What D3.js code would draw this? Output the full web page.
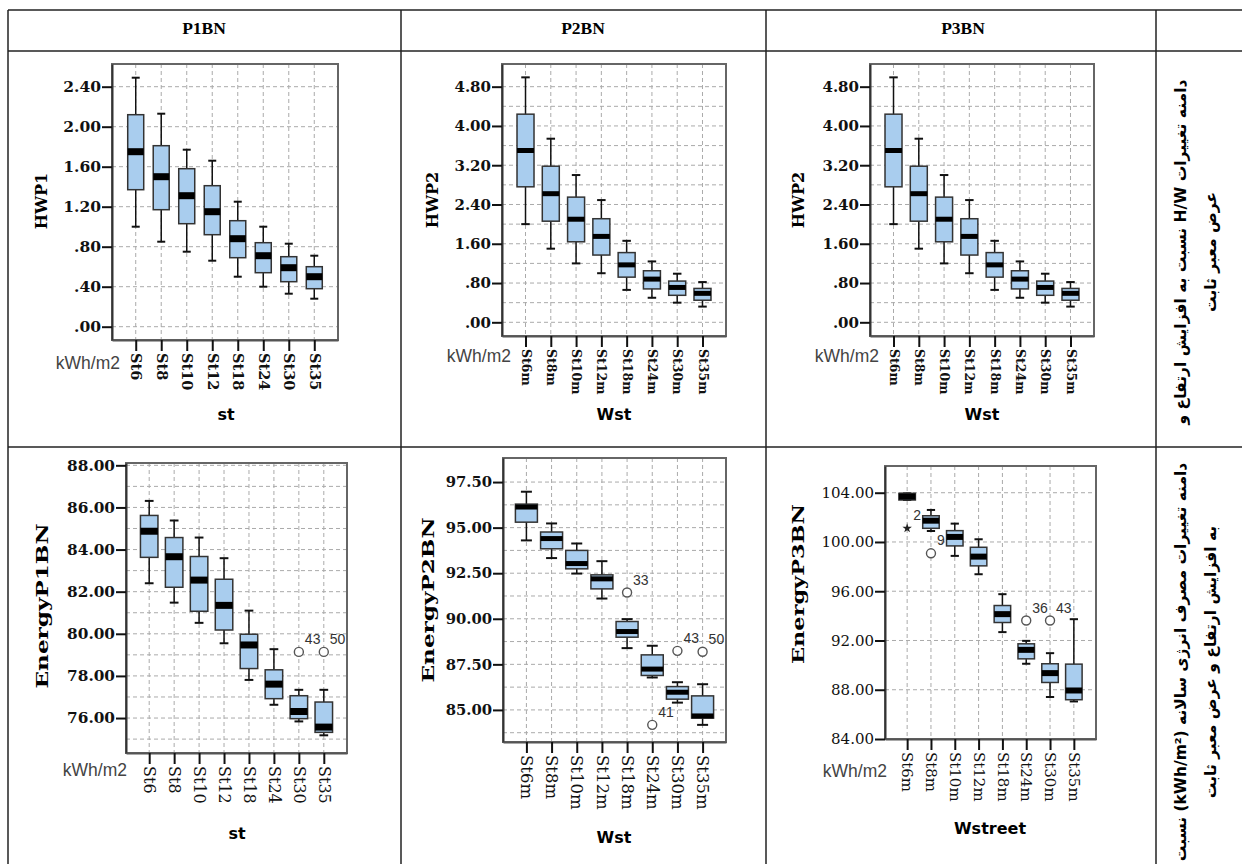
<!DOCTYPE html>
<html>
<head>
<meta charset="utf-8">
<script src="https://cdn.jsdelivr.net/npm/d3@7"></script>
<style>
body { margin: 0; background: #fff; }
</style>
</head>
<body>
<div id="chart"></div>
<script>
// categories
const catSt = ["St6", "St8", "St10", "St12", "St18", "St24", "St30", "St35"];
const catWst = ["St6m", "St8m", "St10m", "St12m", "St18m", "St24m", "St30m", "St35m"];

// HWP1 (P1BN, top)
const hwp1Low  = [1.00, 0.85, 0.75, 0.66, 0.50, 0.40, 0.33, 0.28];
const hwp1Q1   = [1.37, 1.17, 1.03, 0.92, 0.69, 0.54, 0.45, 0.38];
const hwp1Med  = [1.75, 1.50, 1.31, 1.15, 0.88, 0.71, 0.59, 0.50];
const hwp1Q3   = [2.12, 1.81, 1.58, 1.41, 1.06, 0.84, 0.70, 0.60];
const hwp1High = [2.49, 2.13, 1.77, 1.66, 1.25, 1.00, 0.83, 0.71];

// HWP2 (P2BN and P3BN, top)
const hwp2Low  = [2.00, 1.50, 1.20, 1.00, 0.66, 0.50, 0.40, 0.32];
const hwp2Q1   = [2.76, 2.06, 1.64, 1.37, 0.92, 0.68, 0.55, 0.45];
const hwp2Med  = [3.50, 2.62, 2.10, 1.75, 1.17, 0.88, 0.71, 0.59];
const hwp2Q3   = [4.24, 3.18, 2.55, 2.11, 1.42, 1.05, 0.84, 0.69];
const hwp2High = [4.99, 3.74, 3.00, 2.49, 1.66, 1.24, 0.99, 0.82];

// EnergyP1BN
const e1Low  = [82.40, 81.48, 80.52, 79.55, 77.81, 76.63, 75.84, 75.18];
const e1Q1   = [83.63, 82.21, 81.07, 80.18, 78.35, 76.92, 75.97, 75.32];
const e1Med  = [84.87, 83.66, 82.55, 81.35, 79.47, 77.61, 76.31, 75.57];
const e1Q3   = [85.62, 84.57, 83.67, 82.59, 79.98, 78.29, 77.06, 76.76];
const e1High = [86.31, 85.38, 84.57, 83.59, 81.10, 79.27, 77.34, 77.34];
const e1OutCat = ["St30", "St35"];
const e1OutVal = [79.14, 79.14];
const e1OutId  = ["43", "50"];

// EnergyP2BN
const e2Low  = [94.30, 93.33, 92.48, 91.11, 88.39, 86.78, 85.40, 84.18];
const e2Q1   = [95.30, 93.84, 92.74, 91.64, 88.99, 86.89, 85.59, 84.55];
const e2Med  = [96.13, 94.40, 93.03, 92.19, 89.30, 87.24, 85.97, 84.67];
const e2Q3   = [96.29, 94.76, 93.75, 92.41, 89.85, 88.02, 86.28, 85.77];
const e2High = [96.97, 95.23, 94.13, 93.16, 89.98, 88.52, 86.52, 86.41];
const e2OutCat = ["St18m", "St24m", "St30m", "St35m"];
const e2OutVal = [91.44, 84.18, 88.24, 88.19];
const e2OutId  = ["33", "41", "43", "50"];

// EnergyP3BN
const e3Low  = [103.41, 100.89, 98.87, 97.38, 92.68, 90.11, 87.41, 87.05];
const e3Q1   = [103.41, 101.11, 99.68, 98.06, 93.46, 90.51, 88.59, 87.19];
const e3Med  = [103.68, 101.73, 100.41, 98.81, 94.14, 91.24, 89.35, 87.94];
const e3Q3   = [103.95, 102.13, 100.92, 99.57, 94.84, 91.73, 90.11, 90.08];
const e3High = [103.95, 102.60, 101.49, 100.22, 95.76, 91.97, 90.97, 93.73];
const e3OutCat  = ["St6m", "St8m", "St24m", "St30m"];
const e3OutVal  = [101.11, 99.08, 93.62, 93.62];
const e3OutId   = ["2", "9", "36", "43"];
const e3OutKind = ["star", "circle", "circle", "circle"];

// tick labels and grid lines
const tickHWP1 = [0, 0.4, 0.8, 1.2, 1.6, 2.0, 2.4];
const tickHWP2 = [0, 0.8, 1.6, 2.4, 3.2, 4.0, 4.8];
const gridHWP2 = [0, 0.4, 0.8, 1.2, 1.6, 2.0, 2.4, 2.8, 3.2, 3.6, 4.0, 4.4, 4.8];
const tickE1 = [76, 78, 80, 82, 84, 86, 88];
const gridE1 = [75, 76, 77, 78, 79, 80, 81, 82, 83, 84, 85, 86, 87, 88];
const tickE2 = [85, 87.5, 90, 92.5, 95, 97.5];
const gridE2 = [83.75, 85, 86.25, 87.5, 88.75, 90, 91.25, 92.5, 93.75, 95, 96.25, 97.5];
const tickE3 = [84, 88, 92, 96, 100, 104];

// table texts
const headers = ["P1BN", "P2BN", "P3BN"];
const noteTop = ["دامنه تغییرات H/W نسبت به افزایش ارتفاع و", "عرض معبر ثابت"];
const noteBottom = ["دامنه تغییرات مصرف انرژی سالانه (kWh/m²) نسبت", "به افزایش ارتفاع و عرض معبر ثابت"];

const W = 1242, H = 864;
const svg = d3.select("#chart").append("svg")
    .attr("width", W)
    .attr("height", H)
    .style("background", "#fff");

const SERIF = "'DejaVu Serif', serif";
const SANS = "'DejaVu Sans', sans-serif";
const spssFmt = d => d3.format(".2f")(d).replace(/^0\./, ".");

// table rules
const tableH = [10, 51, 447];
const tableV = [8, 401, 766, 1156];
svg.selectAll(".hrule").data(tableH).join("line")
    .attr("x1", 8).attr("x2", W).attr("y1", d => d).attr("y2", d => d)
    .attr("stroke", "#222").attr("stroke-width", 1.5);
svg.selectAll(".vrule").data(tableV).join("line")
    .attr("x1", d => d).attr("x2", d => d).attr("y1", 10).attr("y2", H)
    .attr("stroke", "#222").attr("stroke-width", 1.5);

const headerX = [204, 583, 963];
svg.selectAll(".hdr").data(headers).join("text")
    .attr("x", (d, i) => headerX[i]).attr("y", 34)
    .attr("text-anchor", "middle")
    .attr("font-family", "'Liberation Serif', serif").attr("font-weight", "bold")
    .attr("font-size", 17.5).text(d => d);

function note(lines, cy, size) {
  const g = svg.append("g").attr("transform", "translate(1186," + cy + ") rotate(-90)");
  g.selectAll("text").data(lines).join("text")
      .attr("x", 0).attr("y", (d, i) => i * 30)
      .attr("text-anchor", "middle")
      .attr("direction", "rtl")
      .attr("font-family", SANS).attr("font-weight", "bold")
      .attr("font-size", size).text(d => d);
}
note(noteTop, 252, 15.5);
note(noteBottom, 662, 15.5);

function drawPanel(p) {
  const [x0, y0, x1, y1] = p.frame;
  const g = svg.append("g");
  const x = d3.scalePoint().domain(p.cats).range([x0, x1]).padding(0.93);
  const y = d3.scaleLinear().domain(p.yDom).range([y1, y0]);

  // grid
  g.selectAll(".hg").data(p.grid).join("line")
      .attr("x1", x0).attr("x2", x1).attr("y1", d => y(d)).attr("y2", d => y(d))
      .attr("stroke", "#aaa").attr("stroke-dasharray", "4,3");
  g.selectAll(".vg").data(p.cats).join("line")
      .attr("x1", d => x(d)).attr("x2", d => x(d)).attr("y1", y0).attr("y2", y1)
      .attr("stroke", "#aaa").attr("stroke-dasharray", "4,3");

  // frame
  g.append("rect")
      .attr("x", x0).attr("y", y0).attr("width", x1 - x0).attr("height", y1 - y0)
      .attr("fill", "none").attr("stroke", "#666").attr("stroke-width", 2);

  // y axis
  const ya = g.append("g").attr("transform", "translate(" + x0 + ",0)")
      .call(d3.axisLeft(y).tickValues(p.ticks).tickFormat(spssFmt).tickSize(10).tickPadding(1).tickSizeOuter(0));
  ya.select(".domain").attr("stroke", "#333").attr("stroke-width", 2);
  ya.selectAll(".tick line").attr("stroke", "#111").attr("stroke-width", 2);
  ya.selectAll(".tick text")
      .attr("font-family", SERIF).attr("font-weight", p.tickBold ? "bold" : "normal")
      .attr("font-size", p.tickSize).attr("fill", "#111");

  // x axis
  const xa = g.append("g").attr("transform", "translate(0," + y1 + ")")
      .call(d3.axisBottom(x).tickSize(11).tickSizeOuter(0));
  xa.select(".domain").attr("stroke", "#555").attr("stroke-width", 2);
  xa.selectAll(".tick line").attr("stroke", "#111").attr("stroke-width", 2);
  xa.selectAll(".tick text")
      .attr("transform", "rotate(90)")
      .attr("x", 13).attr("y", 0).attr("dy", "0.35em")
      .style("text-anchor", "start")
      .attr("font-family", SERIF).attr("font-weight", p.catBold ? "bold" : "normal")
      .attr("font-size", p.catSize).attr("fill", "#111");

  // boxes
  const rows = p.cats.map((c, i) => ({c, lo: p.low[i], q1: p.q1[i], med: p.med[i], q3: p.q3[i], hi: p.high[i]}));
  const bw = p.boxW, cw = p.boxW * 0.5;
  const bx = g.selectAll(".box").data(rows).join("g");
  bx.append("line")
      .attr("x1", d => x(d.c)).attr("x2", d => x(d.c))
      .attr("y1", d => y(d.hi)).attr("y2", d => y(d.lo))
      .attr("stroke", "#111").attr("stroke-width", 1.5);
  bx.append("line")
      .attr("x1", d => x(d.c) - cw / 2).attr("x2", d => x(d.c) + cw / 2)
      .attr("y1", d => y(d.hi)).attr("y2", d => y(d.hi))
      .attr("stroke", "#111").attr("stroke-width", 2);
  bx.append("line")
      .attr("x1", d => x(d.c) - cw / 2).attr("x2", d => x(d.c) + cw / 2)
      .attr("y1", d => y(d.lo)).attr("y2", d => y(d.lo))
      .attr("stroke", "#111").attr("stroke-width", 2);
  bx.append("rect")
      .attr("x", d => x(d.c) - bw / 2).attr("width", bw)
      .attr("y", d => y(d.q3)).attr("height", d => Math.max(1, y(d.q1) - y(d.q3)))
      .attr("fill", "#a9cdee").attr("stroke", "#333").attr("stroke-width", 1.5);
  bx.append("line")
      .attr("x1", d => x(d.c) - bw / 2).attr("x2", d => x(d.c) + bw / 2)
      .attr("y1", d => y(d.med)).attr("y2", d => y(d.med))
      .attr("stroke", "#000").attr("stroke-width", p.medW);

  // outliers
  if (p.outCat) {
    const outs = p.outCat.map((c, i) => ({c, v: p.outVal[i], id: p.outId[i], kind: p.outKind ? p.outKind[i] : "circle"}));
    const og = g.selectAll(".out").data(outs).join("g")
        .attr("transform", d => "translate(" + x(d.c) + "," + y(d.v) + ")");
    og.filter(d => d.kind === "circle").append("circle")
        .attr("r", 4.5).attr("fill", "#fff").attr("stroke", "#555").attr("stroke-width", 1.4);
    og.filter(d => d.kind === "star").append("path")
        .attr("d", d3.symbol(d3.symbolStar, 28)).attr("fill", "#222");
    og.append("text")
        .attr("x", 6).attr("y", -8)
        .attr("font-family", "'Liberation Sans', sans-serif").attr("font-size", 14)
        .attr("fill", "#333").text(d => d.id);
  }

  // titles
  const yt = svg.append("text")
      .attr("transform", "translate(" + p.yTitle[0] + "," + p.yTitle[1] + ") rotate(-90)")
      .attr("text-anchor", "middle").attr("dy", "0.35em")
      .attr("font-family", SERIF).attr("font-weight", "bold").attr("font-size", 16)
      .text(p.yLabel);
  if (p.yLen) yt.attr("textLength", p.yLen).attr("lengthAdjust", "spacingAndGlyphs");
  svg.append("text")
      .attr("x", p.xTitle[0]).attr("y", p.xTitle[1])
      .attr("text-anchor", "middle")
      .attr("font-family", SANS).attr("font-weight", "bold").attr("font-size", 16)
      .text(p.xLabel);
  if (p.unit) {
    svg.append("text")
        .attr("x", p.unit[0]).attr("y", p.unit[1])
        .attr("text-anchor", "end")
        .attr("font-family", "'Liberation Sans', sans-serif").attr("font-size", 17.5)
        .attr("fill", "#444").text("kWh/m2");
  }
}

const panels = [
  {cats: catSt, low: hwp1Low, q1: hwp1Q1, med: hwp1Med, q3: hwp1Q3, high: hwp1High,
   ticks: tickHWP1, grid: tickHWP1, frame: [112, 64, 338, 340], yDom: [-0.133, 2.627],
   boxW: 16, medW: 7, tickBold: true, tickSize: 15.5, catBold: true, catSize: 14.5,
   yLabel: "HWP1", yTitle: [41, 201], xLabel: "st", xTitle: [226, 420], unit: [120, 369]},
  {cats: catWst, low: hwp2Low, q1: hwp2Q1, med: hwp2Med, q3: hwp2Q3, high: hwp2High,
   ticks: tickHWP2, grid: gridHWP2, frame: [502, 64, 726, 336], yDom: [-0.279, 5.262],
   boxW: 17, medW: 5, tickBold: true, tickSize: 15, catBold: true, catSize: 12.5,
   yLabel: "HWP2", yTitle: [432, 200], xLabel: "Wst", xTitle: [614, 420], unit: [511, 362]},
  {cats: catWst, low: hwp2Low, q1: hwp2Q1, med: hwp2Med, q3: hwp2Q3, high: hwp2High,
   ticks: tickHWP2, grid: gridHWP2, frame: [870, 64, 1094, 336], yDom: [-0.279, 5.262],
   boxW: 17, medW: 5, tickBold: true, tickSize: 15, catBold: true, catSize: 12.5,
   yLabel: "HWP2", yTitle: [798, 200], xLabel: "Wst", xTitle: [982, 420], unit: [879, 362]},
  {cats: catSt, low: e1Low, q1: e1Q1, med: e1Med, q3: e1Q3, high: e1High,
   outCat: e1OutCat, outVal: e1OutVal, outId: e1OutId,
   ticks: tickE1, grid: gridE1, frame: [126, 463, 347, 753], yDom: [74.34, 88.11],
   boxW: 17.5, medW: 7, tickBold: true, tickSize: 15.3, catBold: false, catSize: 16,
   yLabel: "EnergyP1BN", yLen: 165, yTitle: [42, 606], xLabel: "st", xTitle: [237, 839], unit: [127, 776]},
  {cats: catWst, low: e2Low, q1: e2Q1, med: e2Med, q3: e2Q3, high: e2High,
   outCat: e2OutCat, outVal: e2OutVal, outId: e2OutId,
   ticks: tickE2, grid: gridE2, frame: [503, 458, 726, 742], yDom: [83.24, 98.82],
   boxW: 22, medW: 5, tickBold: true, tickSize: 14.8, catBold: false, catSize: 16.5,
   yLabel: "EnergyP2BN", yLen: 165, yTitle: [428, 600], xLabel: "Wst", xTitle: [614, 843], unit: null},
  {cats: catWst, low: e3Low, q1: e3Q1, med: e3Med, q3: e3Q3, high: e3High,
   outCat: e3OutCat, outVal: e3OutVal, outId: e3OutId, outKind: e3OutKind,
   ticks: tickE3, grid: tickE3, frame: [885, 466, 1096, 739], yDom: [84, 106.17],
   boxW: 16.5, medW: 6, tickBold: false, tickSize: 15, catBold: false, catSize: 15,
   yLabel: "EnergyP3BN", yLen: 160, yTitle: [798, 584], xLabel: "Wstreet", xTitle: [990, 834], unit: [887, 777]}
];

panels.forEach(drawPanel);
</script>
</body>
</html>
